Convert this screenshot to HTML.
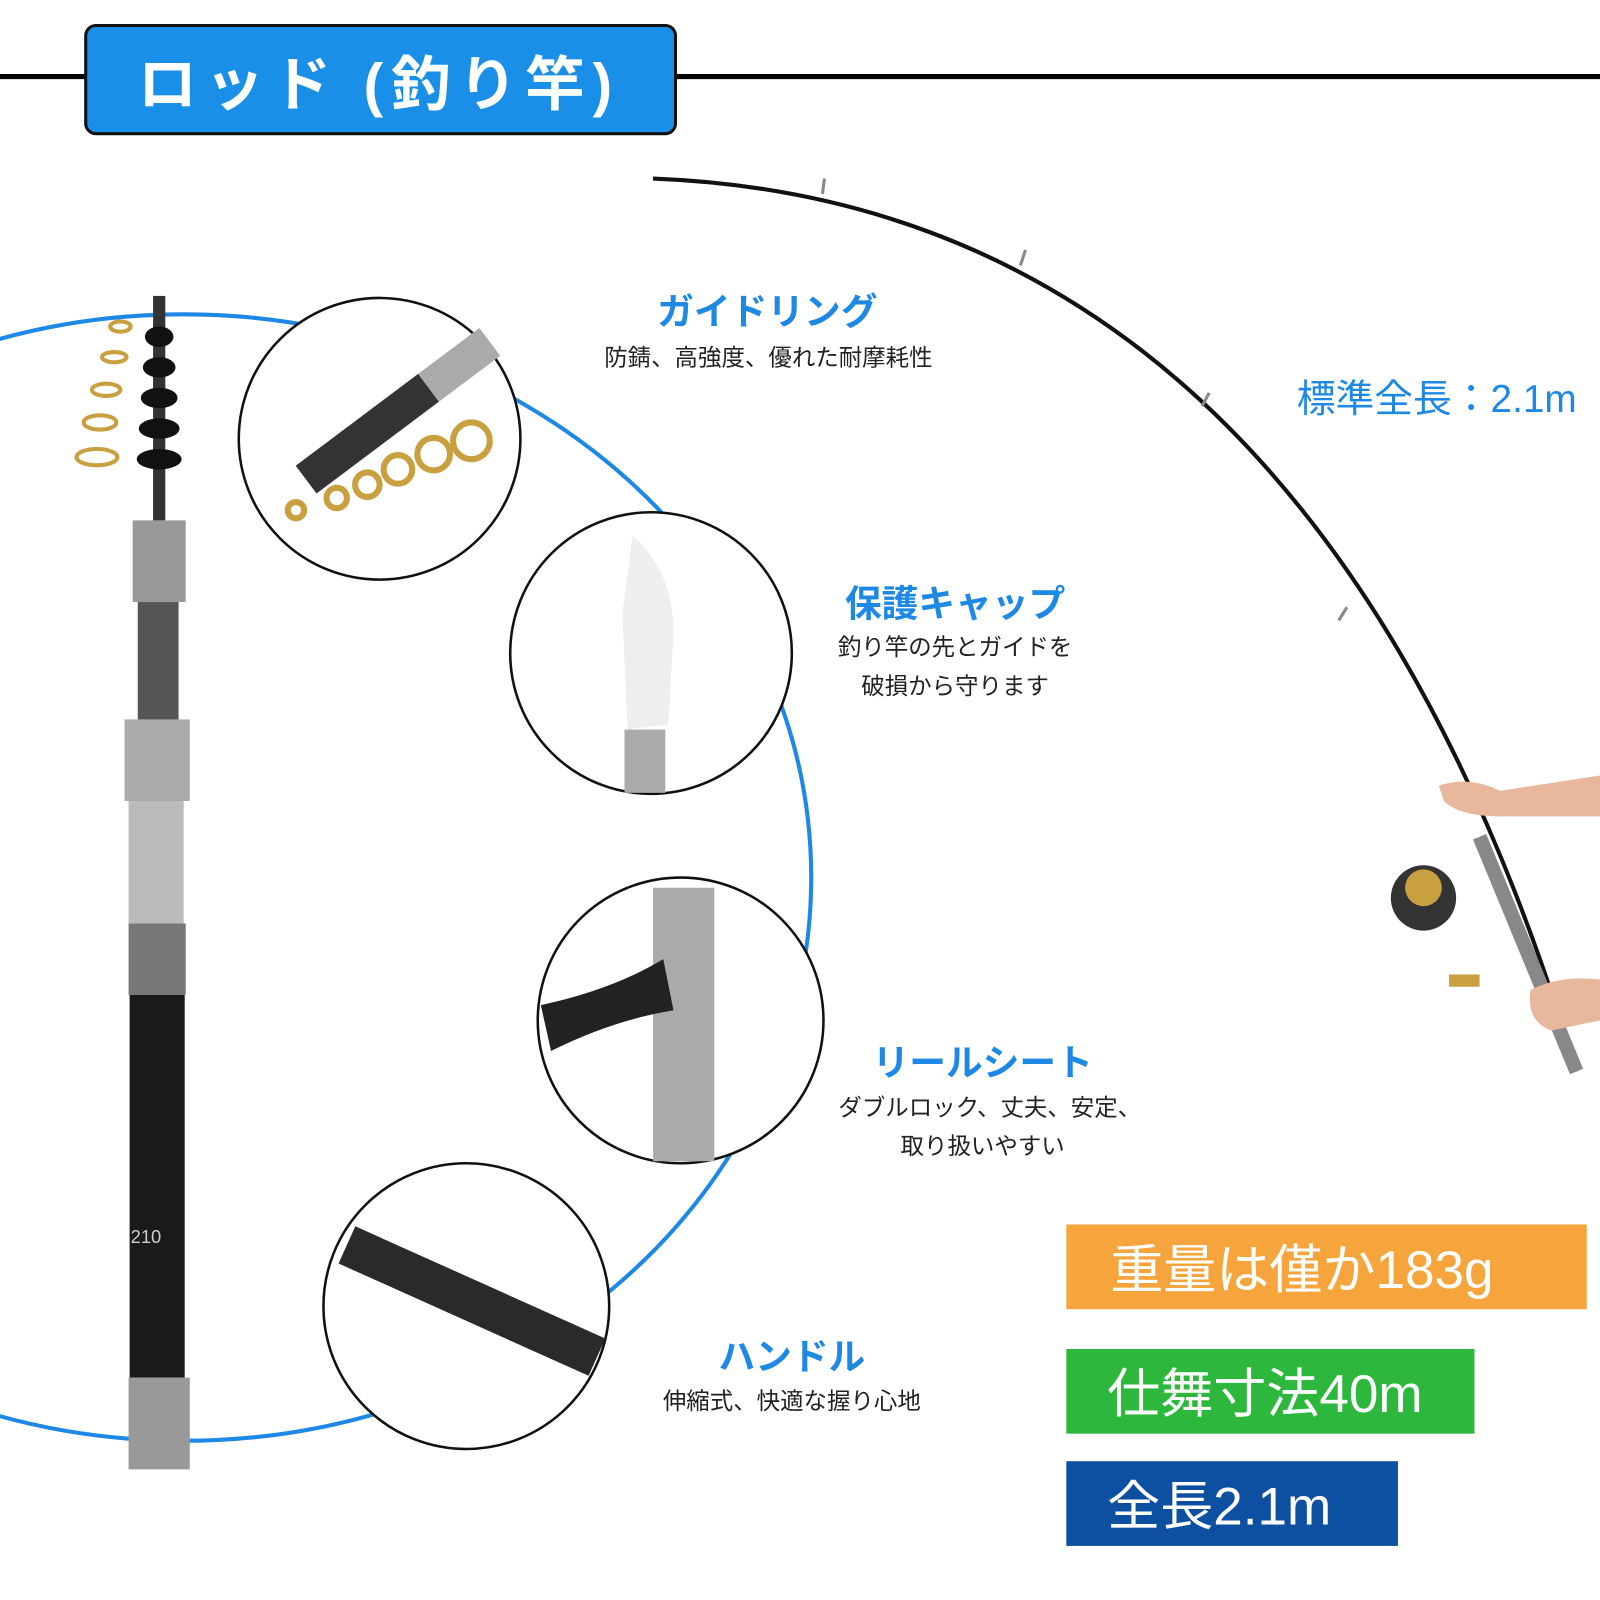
<!DOCTYPE html>
<html><head><meta charset="utf-8"><style>
html,body{margin:0;padding:0;background:#fff;}
svg{display:block;}
text{font-family:"Liberation Sans","Noto Sans CJK JP",sans-serif;}
</style></head><body>
<svg width="1600" height="1600" viewBox="0 0 1568 1568" xmlns="http://www.w3.org/2000/svg">
<rect width="1568" height="1568" fill="#fff"/>
<line x1="0" y1="75" x2="1568" y2="75" stroke="#000" stroke-width="5"/>
<rect x="84" y="25" width="578" height="106" rx="10" fill="#1a8fe8" stroke="#111" stroke-width="3"/>
<text x="135" y="103" font-size="58" font-weight="bold" fill="#fff" textLength="465" lengthAdjust="spacing">ロッド (釣り竿)</text>

<ellipse cx="180" cy="860" rx="615" ry="552" fill="none" stroke="#1e88e5" stroke-width="4"/>

<!-- curved rod -->
<path d="M640,175 Q1290,200 1545,1050" fill="none" stroke="#111" stroke-width="4"/>
<g stroke="#888" stroke-width="3"><line x1="808" y1="175" x2="806" y2="190"/><line x1="1005" y1="245" x2="1000" y2="260"/><line x1="1185" y1="385" x2="1178" y2="398"/><line x1="1320" y1="595" x2="1312" y2="608"/></g>
<path d="M1450,820 L1545,1050" stroke="#888" stroke-width="14"/>
<path d="M1410,770 Q1440,760 1470,775 L1568,760 L1568,800 L1470,800 Q1430,800 1415,785 Z" fill="#e9b89c"/>
<path d="M1500,970 Q1530,955 1568,960 L1568,1000 L1520,1010 Q1495,1000 1500,970Z" fill="#e9b89c"/>
<circle cx="1395" cy="880" r="32" fill="#333"/><circle cx="1395" cy="870" r="18" fill="#c9a040"/>
<rect x="1420" y="955" width="30" height="12" fill="#c9a040"/>

<!-- left rod -->
<rect x="150" y="290" width="12" height="220" fill="#333"/>
<g fill="#111"><ellipse cx="156" cy="330" rx="14" ry="10"/><ellipse cx="156" cy="360" rx="16" ry="10"/><ellipse cx="156" cy="390" rx="18" ry="10"/><ellipse cx="156" cy="420" rx="20" ry="10"/><ellipse cx="156" cy="450" rx="22" ry="10"/></g>
<g fill="none" stroke="#c9a040" stroke-width="4"><ellipse cx="118" cy="320" rx="10" ry="5"/><ellipse cx="112" cy="350" rx="12" ry="5"/><ellipse cx="104" cy="382" rx="14" ry="6"/><ellipse cx="98" cy="414" rx="16" ry="7"/><ellipse cx="95" cy="448" rx="20" ry="8"/></g>
<rect x="130" y="510" width="52" height="80" fill="#999"/>
<rect x="135" y="590" width="40" height="120" fill="#555"/>
<rect x="122" y="705" width="64" height="80" fill="#aaa"/>
<rect x="126" y="785" width="54" height="120" fill="#bbb"/>
<rect x="126" y="905" width="56" height="70" fill="#777"/>
<rect x="127" y="975" width="54" height="375" fill="#1a1a1a"/>
<text x="128" y="1218" font-size="18" fill="#ccc">210</text>
<rect x="126" y="1350" width="60" height="90" fill="#999"/>

<!-- detail circles -->
<circle cx="372" cy="430" r="138" fill="#fff" stroke="#111" stroke-width="2.5"/>
<path d="M300,470 L420,380" stroke="#333" stroke-width="34"/>
<path d="M420,380 L480,335" stroke="#aaa" stroke-width="34"/>
<g fill="none" stroke="#c9a040" stroke-width="6"><circle cx="290" cy="500" r="8"/><circle cx="330" cy="488" r="10"/><circle cx="360" cy="475" r="12"/><circle cx="390" cy="460" r="14"/><circle cx="425" cy="445" r="16"/><circle cx="462" cy="432" r="18"/></g>
<circle cx="638" cy="640" r="138" fill="#fff" stroke="#111" stroke-width="2.5"/>
<path d="M620,525 Q660,560 660,620 L655,710 L615,715 L610,600Z" fill="#eee"/>
<rect x="612" y="715" width="40" height="62" fill="#aaa"/>
<circle cx="667" cy="1000" r="140" fill="#fff" stroke="#111" stroke-width="2.5"/>
<rect x="640" y="870" width="60" height="268" fill="#aaa"/>
<path d="M530,985 Q600,970 650,940 L660,990 Q600,1000 540,1030Z" fill="#222"/>
<circle cx="457" cy="1280" r="140" fill="#fff" stroke="#111" stroke-width="2.5"/>
<path d="M340,1220 L585,1330" stroke="#2a2a2a" stroke-width="40"/>

<!-- labels -->
<text x="752" y="318" font-size="36" font-weight="bold" fill="#1e88e5" text-anchor="middle">ガイドリング</text>
<text x="753" y="358" font-size="23" fill="#222" text-anchor="middle">防錆、高強度、優れた耐摩耗性</text>
<text x="1408" y="404" font-size="38" fill="#1e88e5" text-anchor="middle">標準全長：2.1m</text>
<text x="936" y="604" font-size="36" font-weight="bold" fill="#1e88e5" text-anchor="middle">保護キャップ</text>
<text x="936" y="642" font-size="23" fill="#222" text-anchor="middle">釣り竿の先とガイドを</text>
<text x="936" y="680" font-size="23" fill="#222" text-anchor="middle">破損から守ります</text>
<text x="963" y="1054" font-size="36" font-weight="bold" fill="#1e88e5" text-anchor="middle">リールシート</text>
<text x="970" y="1093" font-size="23" fill="#222" text-anchor="middle">ダブルロック、丈夫、安定、</text>
<text x="963" y="1131" font-size="23" fill="#222" text-anchor="middle">取り扱いやすい</text>
<text x="776" y="1342" font-size="36" font-weight="bold" fill="#1e88e5" text-anchor="middle">ハンドル</text>
<text x="776" y="1381" font-size="23" fill="#222" text-anchor="middle">伸縮式、快適な握り心地</text>

<rect x="1045" y="1200" width="510" height="83" fill="#f6a53c"/>
<text x="1088" y="1262" font-size="52" fill="#fff">重量は僅か183g</text>
<rect x="1045" y="1322" width="400" height="83" fill="#2db83d"/>
<text x="1085" y="1384" font-size="52" fill="#fff">仕舞寸法40m</text>
<rect x="1045" y="1432" width="325" height="83" fill="#0d4fa0"/>
<text x="1085" y="1494" font-size="52" fill="#fff">全長2.1m</text>
</svg>
</body></html>
